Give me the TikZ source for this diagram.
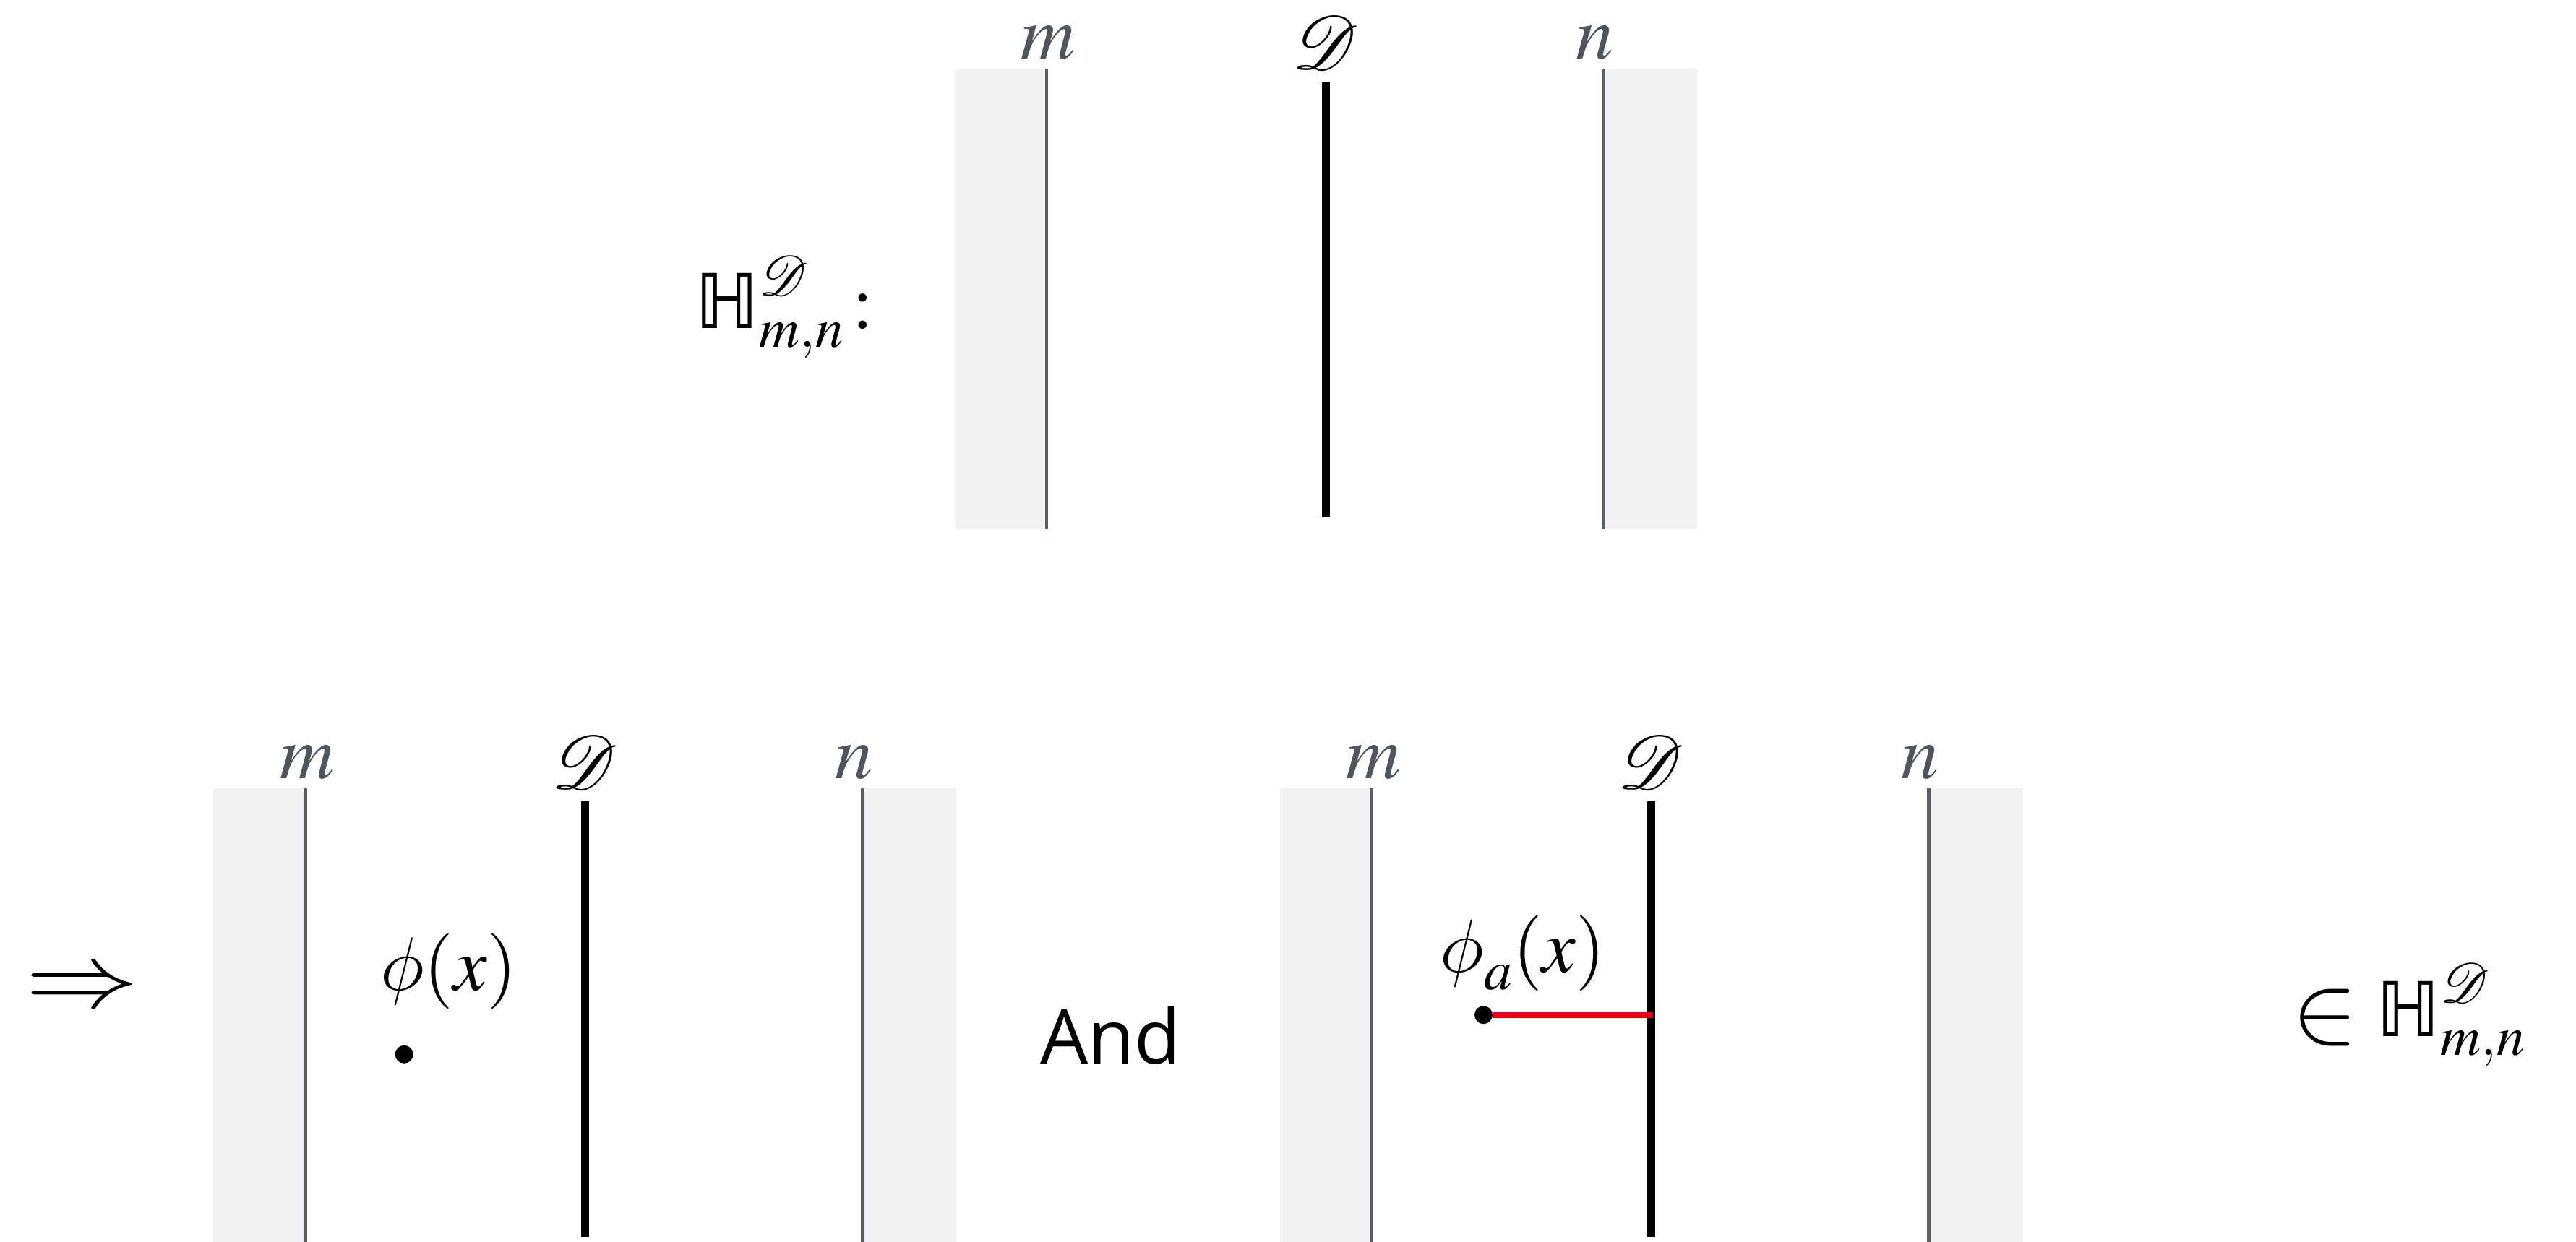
\documentclass[tikz,border=0pt]{standalone}
\usepackage{mathptmx}
\usepackage{mathrsfs}
\DeclareFontFamily{U}{rsfs}{\skewchar\font127 }
\DeclareFontShape{U}{rsfs}{m}{n}{<-> rsfs10}{}
\font\phifont=cmmi12 at 46pt
\newcommand\cmphi{\mbox{\phifont\char"1E}}
\usepackage[no-math]{fontspec}
\newfontfamily\dejavu{DejaVu Sans}
\newfontfamily\andfont{Open Sans}
\newcommand\HHsym{\mbox{\dejavu ℍ}}
\definecolor{lblgray}{HTML}{50555C}
\definecolor{linegray}{HTML}{5A5F66}
\definecolor{fillgray}{HTML}{F2F2F2}
\definecolor{redline}{HTML}{E60012}
\begin{document}
\begin{tikzpicture}[x=1pt,y=-1pt,
  wall/.style={fill=fillgray, draw=none},
  bdry/.style={draw=linegray, line width=1.9pt},
  defect/.style={draw=black, line width=5pt},
  lbl/.style={text=lblgray, font=\fontsize{46}{55}\selectfont, inner sep=0pt, anchor=base},
  dlbl/.style={text=black, font=\fontsize{46}{55}\selectfont, inner sep=0pt, anchor=base},
  big/.style={font=\fontsize{46}{55}\selectfont, inner sep=0pt},
  dotnode/.style={circle, fill=black, draw=none, minimum size=11pt, inner sep=0pt},
  redc/.style={draw=redline, line width=3.5pt}]
\useasboundingbox (0,0) rectangle (1568,756);
\foreach \p/\dx/\dy in {t/0/0, l/-451/438, r/198/438}{
  \begin{scope}[shift={(\dx,\dy)}]
    \fill[wall] (581,42) rectangle (637,322);
    \fill[wall] (976,42) rectangle (1033,322);
    \draw[bdry] (637,42) -- (637,322);
    \draw[bdry] (976,42) -- (976,322);
    \draw[defect] (807,50) -- (807,315);
    \node[lbl] (\p-m) at (638,36) {$m$};
    \node[dlbl] (\p-D) at (807,42) {$\mathscr{D}$};
    \node[lbl] (\p-n) at (971,36) {$n$};
  \end{scope}
}
\node[big, anchor=base west] (Htop) at (423,200) {$\HHsym^{\mathscr{D}}_{m,n}\,{:}$};
\node[big, anchor=center] (impl) at (50,603) {\scalebox{1.5}[1.2]{$\Rightarrow$}};
\node[big, anchor=base] (phil) at (273,603) {$\cmphi(x)$};
\node[dotnode] (ldot) at (246,642) {};
\node[big, anchor=base, font=\fontsize{46}{55}\andfont] (andw) at (676,648) {And};
\node[big, anchor=base] (phir) at (927,592) {$\cmphi_a(x)$};
\node[dotnode] (rdot) at (903,618) {};
\coordinate (rjunc) at (1006,618);
\draw[redc] (rdot.east) -- (rjunc);
\node[big, anchor=base west] (Hbot) at (1395,631) {\raisebox{-0.08em}{\scalebox{1.3}{$\in$}}\hspace{0.25em}$\HHsym^{\mathscr{D}}_{m,n}$};
\end{tikzpicture}
\end{document}
